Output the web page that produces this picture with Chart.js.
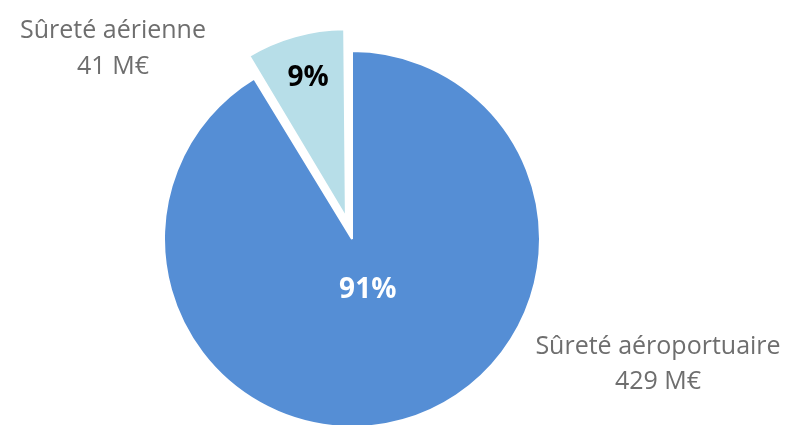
<!DOCTYPE html>
<html lang="fr">
<head>
    <meta charset="UTF-8">
    <title>Sûreté</title>
    <script src="https://cdn.jsdelivr.net/npm/chart.js"></script>
    <style>
        body { margin: 0; background: #fff; }
        .wrap { width: 787px; height: 425px; position: relative; }
    </style>
</head>
<body>
    <div class="wrap"><canvas id="pie"></canvas></div>

    <script>
        // données
        const labels = ['Sûreté aéroportuaire', 'Sûreté aérienne'];
        const valeurs = [429, 41];
        const unites = ['429 M€', '41 M€'];
        const couleurs = ['#558ed5', '#b7dee8'];

        const total = valeurs.reduce((a, b) => a + b, 0);

        // corrige l'agrandissement du rayon que Chart.js applique aux parts décalées
        const fixOffset = {
            id: 'fixOffset',
            afterDatasetsUpdate(chart) {
                const meta = chart.getDatasetMeta(0);
                meta.data.forEach(arc => {
                    const off = (arc.options.offset || 0) / 4;
                    const circ = arc.endAngle - arc.startAngle;
                    const fix = 1 - Math.sin(Math.min(Math.PI, circ));
                    arc.outerRadius = arc.outerRadius - off * fix;
                });
            }
        };

        // pourcentages dans les parts + libellés extérieurs
        const etiquettes = {
            id: 'etiquettes',
            afterDatasetsDraw(chart) {
                const ctx = chart.ctx;
                const meta = chart.getDatasetMeta(0);
                const frac = [0.27, 0.83];
                const coul = ['#ffffff', '#000000'];
                ctx.save();
                ctx.textAlign = 'center';
                ctx.textBaseline = 'alphabetic';
                meta.data.forEach((arc, i) => {
                    const a = (arc.startAngle + arc.endAngle) / 2;
                    const t = (arc.options.offset || 0) / 4;
                    const d = t + arc.outerRadius * frac[i];
                    const x = arc.x + Math.cos(a) * d;
                    const y = arc.y + Math.sin(a) * d;
                    ctx.font = 'bold 28px "Open Sans"';
                    ctx.fillStyle = coul[i];
                    ctx.fillText(Math.round(valeurs[i] / total * 100) + '%', x + 2, y + 10);
                });

                ctx.font = '25px "Open Sans"';
                ctx.fillStyle = '#6e6e6e';
                ctx.fillText(labels[1], 113, 38);
                ctx.fillText(unites[1], 113, 74);
                ctx.fillText(labels[0], 658, 354);
                ctx.fillText(unites[0], 658, 389);
                ctx.restore();
            }
        };

        new Chart(document.getElementById('pie'), {
            type: 'pie',
            data: {
                labels: labels,
                datasets: [{
                    data: valeurs,
                    backgroundColor: couleurs,
                    borderColor: '#ffffff',
                    borderWidth: 2,
                    offset: [0, 90],
                    hoverOffset: 0,
                    clip: false
                }]
            },
            options: {
                responsive: true,
                maintainAspectRatio: false,
                animation: false,
                radius: 188,
                layout: { padding: { top: 53, right: 83, left: 0, bottom: 0 } },
                plugins: {
                    legend: { display: false },
                    tooltip: { enabled: false }
                }
            },
            plugins: [fixOffset, etiquettes]
        });
    </script>
</body>
</html>
